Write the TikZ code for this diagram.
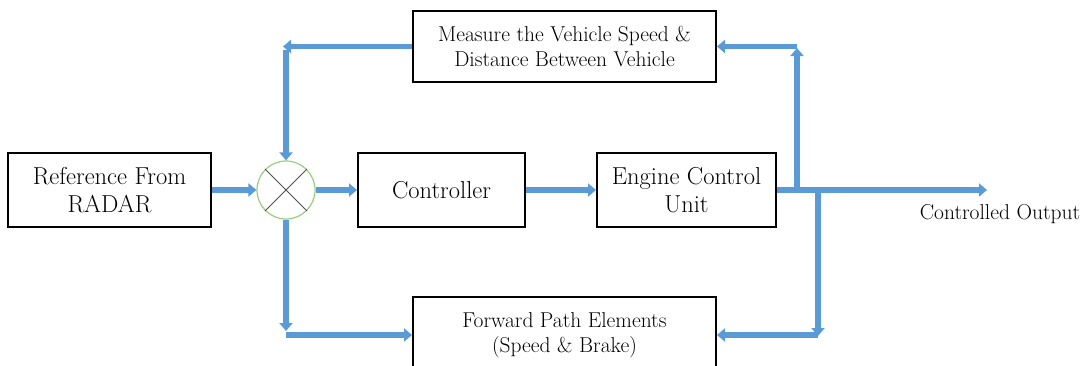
\documentclass[tikz,border=0pt]{standalone}
\usepackage{fontspec}
\usetikzlibrary{arrows.meta}
\definecolor{flowblue}{HTML}{5B9BD5}
\definecolor{ringgreen}{HTML}{9ACD7E}
\definecolor{crossgrey}{HTML}{505050}
\tikzset{every node/.style={font=\fontsize{24.5}{28}\selectfont},line join=miter,
  box/.style={draw,fill=white,line width=2pt,align=center,inner sep=0pt},
  smalltext/.style={font=\fontsize{21.5}{25.5}\selectfont},
  flow/.style={draw=flowblue,line width=5.5pt,-{Triangle[length=8pt,width=13pt]}},
  mixer/.style={circle,draw=ringgreen,fill=white,line width=1.2pt,minimum size=58pt,inner sep=0pt},
  crossline/.style={draw=crossgrey,line width=1pt}}

\begin{document}
\begin{tikzpicture}[x=1pt,y=-1pt]
  \path[use as bounding box] (0,0) rectangle (1084,365);
  \clip (0,0) rectangle (1084,365);
  % blocks
  \node[box,minimum width=203pt,minimum height=74pt] (ref) at (109.5,190) {Reference From\\RADAR};
  \node[mixer] (mix) at (286,190) {};
  \node[box,minimum width=167pt,minimum height=74pt] (ctrl) at (441.5,190) {Controller};
  \node[box,minimum width=179pt,minimum height=74pt] (ecu) at (686.5,190) {Engine Control\\Unit};
  \node[box,smalltext,minimum width=303pt,minimum height=71pt] (meas) at (564.5,46.5) {Measure the Vehicle Speed \&\\Distance Between Vehicle};
  \node[box,smalltext,minimum width=303pt,minimum height=76pt] (fwd) at (564.5,335) {Forward Path Elements\\(Speed \& Brake)};
  \node[smalltext] (out) at (1000,214) {Controlled Output};
  \draw[crossline] (mix.north west) -- (mix.south east);
  \draw[crossline] (mix.north east) -- (mix.south west);
  % bends
  \coordinate (outtip) at (987,190);
  \coordinate (upb) at (797,190);
  \coordinate (upt) at (797,48);
  \coordinate (dnb) at (818,192);
  \coordinate (dnt) at (818,336);
  \coordinate (tl) at (283,46.5);
  \coordinate (tlb) at (286,50);
  \coordinate (bl) at (286,331);
  % forward path
  \draw[flow] (ref.east) -- (mix.west);
  \draw[flow] (mix.east) -- (ctrl.west);
  \draw[flow] (ctrl.east) -- (ecu.west);
  \draw[flow] (ecu.east) -- (outtip);
  % feedback
  \draw[flow] (upb) -- (upt);
  \draw[flow] (upt |- meas.east) -- (meas.east);
  \draw[flow] (dnb) -- (dnt);
  \draw[flow] (dnt |- fwd.east) -- (fwd.east);
  \draw[flow] (meas.west) -- (tl);
  \draw[flow] (tlb) -- (mix.north);
  \draw[flow] (mix.south) -- (bl);
  \draw[flow] (bl |- fwd.west) -- (fwd.west);
\end{tikzpicture}
\end{document}
